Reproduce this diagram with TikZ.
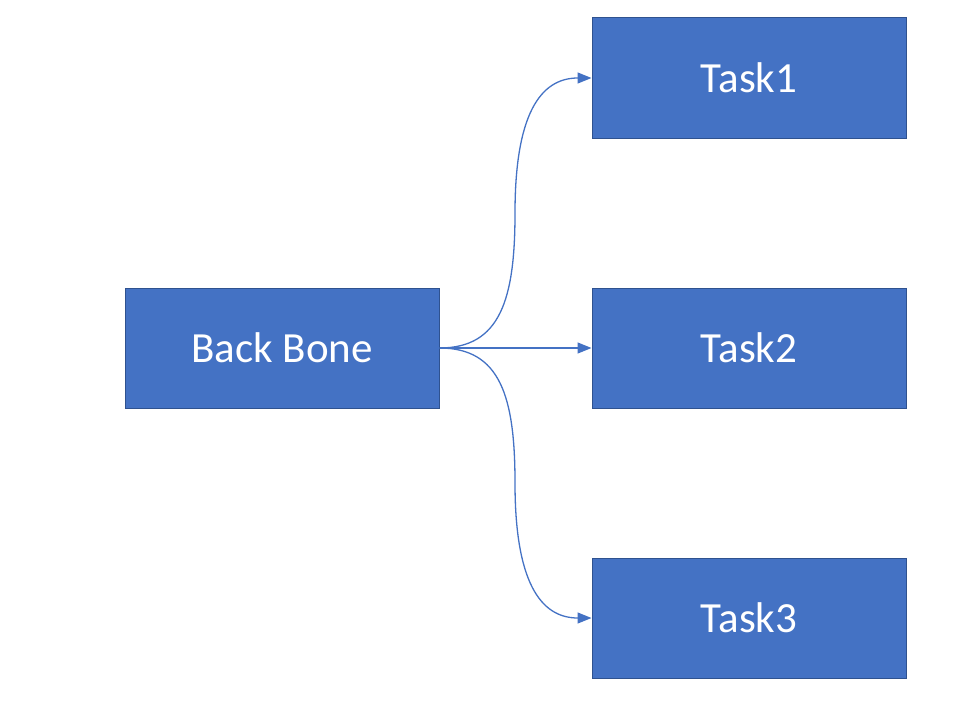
\documentclass[tikz,border=0pt]{standalone}
\usepackage{fontspec}
\setmainfont{Carlito}
\usetikzlibrary{arrows.meta}
\definecolor{boxfill}{HTML}{4472C4}
\definecolor{boxline}{HTML}{2F528F}
\begin{document}
\begin{tikzpicture}[x=1pt,y=-1pt,
  blockbox/.style={draw=boxline,line width=1pt,fill=boxfill,minimum width=314pt,minimum height=120pt,inner sep=0pt,text=white,font=\fontsize{43}{50}\selectfont},
  conn/.style={draw=boxfill,line width=1.3pt,-{Triangle[length=14pt,width=11pt]}}]
\useasboundingbox (0,0) rectangle (976,709);
\node[blockbox] (bb) at (282,348) {Back Bone};
\node[blockbox] (t1) at (749,78) {Task1};
\node[blockbox] (t2) at (749,348) {Task2};
\node[blockbox] (t3) at (749,618) {Task3};
\coordinate (m1) at (515,213);
\coordinate (m3) at (515,483);
\draw[conn] (bb.east) .. controls (500,348) and (515,300) .. (m1) .. controls (515,115) and (540,78) .. (t1.west);
\draw[conn] (bb.east) -- (t2.west);
\draw[conn] (bb.east) .. controls (500,348) and (515,396) .. (m3) .. controls (515,581) and (540,618) .. (t3.west);
\end{tikzpicture}
\end{document}
